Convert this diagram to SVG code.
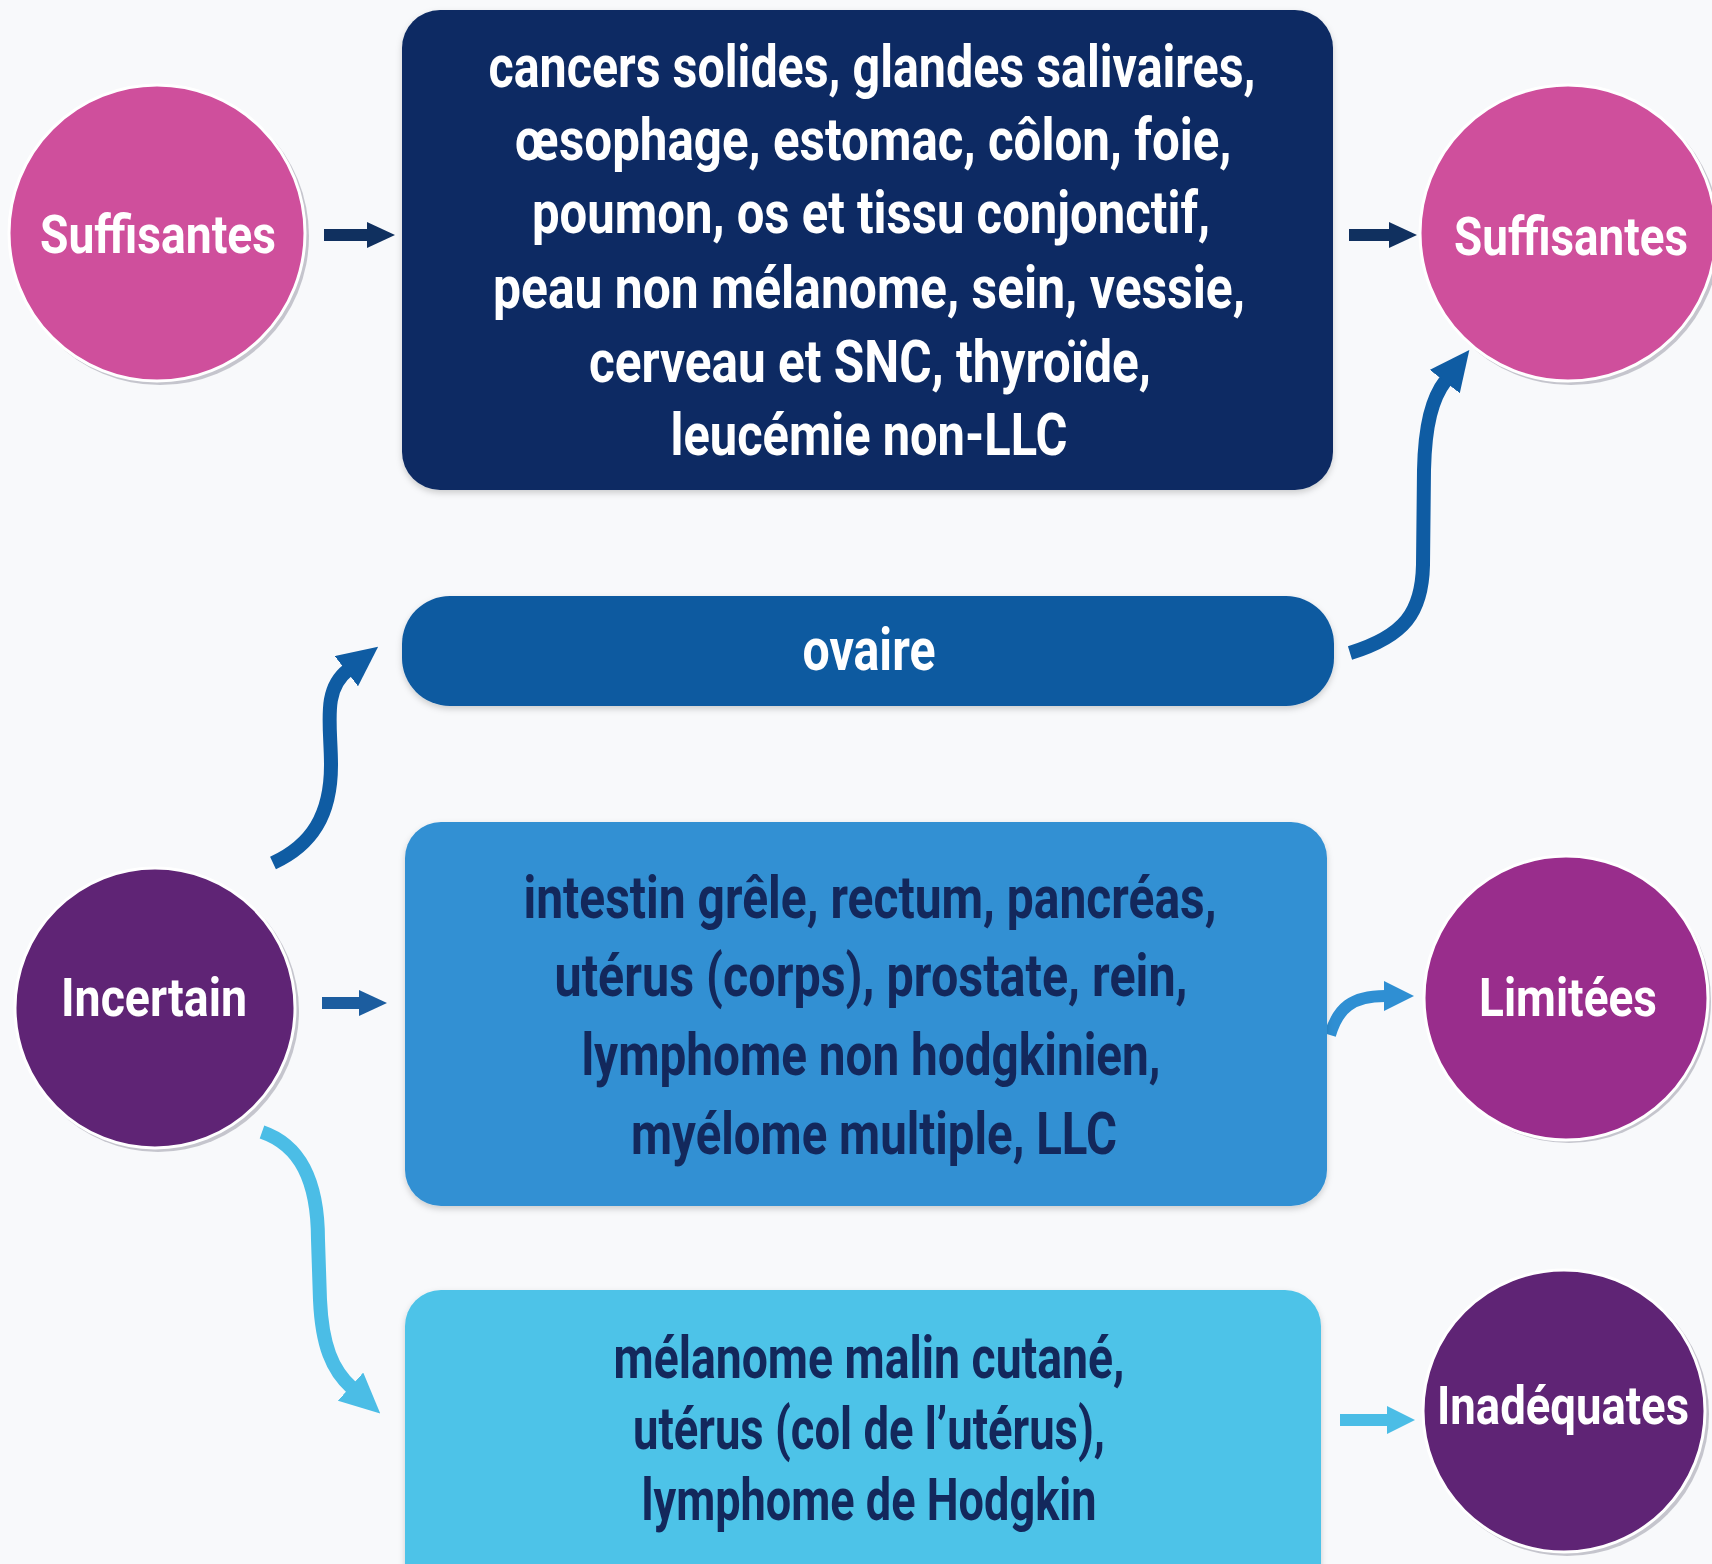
<svg xmlns="http://www.w3.org/2000/svg" width="1712" height="1564" viewBox="0 0 1712 1564">
<style>
.t{font-family:"Liberation Sans Narrow","Roboto","Liberation Sans",sans-serif;font-weight:700;text-anchor:middle}
.w{fill:#ffffff}
.d{fill:#13285c}
.box{font-size:60px}
.cl{font-size:54px}
.ring{stroke:#ffffff;stroke-width:3}
.sh{fill:#9a9aa8;opacity:0.55}
.c{fill:none;stroke-linecap:butt}
</style>
<defs>
<marker id="hNavy" markerUnits="userSpaceOnUse" viewBox="0 0 28 26" refX="1" refY="13" markerWidth="28" markerHeight="26" orient="auto"><path d="M0,0 L28,13 L0,26 Z" fill="#10305f"/></marker>
<marker id="hMid" markerUnits="userSpaceOnUse" viewBox="0 0 28 26" refX="1" refY="13" markerWidth="28" markerHeight="26" orient="auto"><path d="M0,0 L28,13 L0,26 Z" fill="#1c5d9f"/></marker>
<marker id="hLight" markerUnits="userSpaceOnUse" viewBox="0 0 30 30" refX="1" refY="15" markerWidth="30" markerHeight="30" orient="auto"><path d="M0,0 L30,15 L0,30 Z" fill="#2f8fd3"/></marker>
<marker id="hCyanS" markerUnits="userSpaceOnUse" viewBox="0 0 28 28" refX="1" refY="14" markerWidth="28" markerHeight="28" orient="auto"><path d="M0,0 L28,14 L0,28 Z" fill="#4bbde6"/></marker>
<marker id="hBlueL" markerUnits="userSpaceOnUse" viewBox="0 0 40 38" refX="2" refY="19" markerWidth="40" markerHeight="38" orient="auto"><path d="M0,0 L40,19 L0,38 Z" fill="#0f5ca3"/></marker>
<marker id="hCyanL" markerUnits="userSpaceOnUse" viewBox="0 0 40 38" refX="2" refY="19" markerWidth="40" markerHeight="38" orient="auto"><path d="M0,0 L40,19 L0,38 Z" fill="#4bbde6"/></marker>
<filter id="bs" x="-5%" y="-5%" width="110%" height="115%"><feDropShadow dx="0" dy="3" stdDeviation="3" flood-color="#000000" flood-opacity="0.18"/></filter>
</defs>
<rect x="0" y="0" width="1712" height="1564" fill="#f8f9fb"/>

<g id="connectors">
<path class="c" d="M324,235 L368,235" stroke="#10305f" stroke-width="12" marker-end="url(#hNavy)"/>
<path class="c" d="M1349,235 L1390,235" stroke="#10305f" stroke-width="12" marker-end="url(#hNavy)"/>
<path class="c" d="M1350,653 C1405,636 1422,612 1423,565 L1424,470 C1425,425 1432,398 1446,380" stroke="#0f5ca3" stroke-width="14" marker-end="url(#hBlueL)"/>
<path class="c" d="M273,863 C312,845 331,815 331,765 C331,725 322,690 348,670" stroke="#0f5ca3" stroke-width="14" marker-end="url(#hBlueL)"/>
<path class="c" d="M322,1003 L360,1003" stroke="#1c5d9f" stroke-width="12" marker-end="url(#hMid)"/>
<path class="c" d="M1330,1035 C1338,1008 1352,996 1385,996" stroke="#2f8fd3" stroke-width="12" marker-end="url(#hLight)"/>
<path class="c" d="M262,1132 C300,1145 318,1180 318,1240 L320,1300 C322,1345 332,1370 352,1388" stroke="#4bbde6" stroke-width="14" marker-end="url(#hCyanL)"/>
<path class="c" d="M1340,1420 L1388,1420" stroke="#4bbde6" stroke-width="12" marker-end="url(#hCyanS)"/>
</g>

<g id="n-suff-left">
<circle class="sh" cx="160" cy="236" r="149"/>
<circle class="ring" cx="157" cy="233" r="148" fill="#cf4f9c"/>
<text class="t w cl" x="158" y="253" textLength="236" lengthAdjust="spacingAndGlyphs">Suffisantes</text>
</g>

<g id="n-top">
<rect x="402" y="10" width="931" height="480" rx="38" fill="#0d2c63" filter="url(#bs)"/>
<text class="t w box" x="872" y="87" textLength="767" lengthAdjust="spacingAndGlyphs">cancers solides, glandes salivaires,</text>
<text class="t w box" x="873" y="160" textLength="717" lengthAdjust="spacingAndGlyphs">œsophage, estomac, côlon, foie,</text>
<text class="t w box" x="871" y="233" textLength="678" lengthAdjust="spacingAndGlyphs">poumon, os et tissu conjonctif,</text>
<text class="t w box" x="869" y="308" textLength="752" lengthAdjust="spacingAndGlyphs">peau non mélanome, sein, vessie,</text>
<text class="t w box" x="870" y="382" textLength="562" lengthAdjust="spacingAndGlyphs">cerveau et SNC, thyroïde,</text>
<text class="t w box" x="869" y="455" textLength="397" lengthAdjust="spacingAndGlyphs">leucémie non-LLC</text>
</g>

<g id="n-suff-right">
<circle class="sh" cx="1571" cy="236" r="149"/>
<circle class="ring" cx="1568" cy="233" r="148" fill="#cf4f9c"/>
<text class="t w" style="font-size:46px" transform="translate(1571,255) scale(1,1.17)" x="0" y="0" textLength="234" lengthAdjust="spacingAndGlyphs">Suffisantes</text>
</g>

<g id="n-ovaire">
<rect x="402" y="596" width="932" height="110" rx="48" fill="#0e5aa0" filter="url(#bs)"/>
<text class="t w box" x="869" y="670" textLength="133" lengthAdjust="spacingAndGlyphs">ovaire</text>
</g>

<g id="n-incertain">
<circle class="sh" cx="158" cy="1011" r="141"/>
<circle class="ring" cx="155" cy="1008" r="140" fill="#5f2475"/>
<text class="t w cl" x="154" y="1016" textLength="186" lengthAdjust="spacingAndGlyphs">Incertain</text>
</g>

<g id="n-middle">
<rect x="405" y="822" width="922" height="384" rx="36" fill="#3390d3" filter="url(#bs)"/>
<text class="t d box" x="870" y="918" textLength="693" lengthAdjust="spacingAndGlyphs">intestin grêle, rectum, pancréas,</text>
<text class="t d box" x="871" y="996" textLength="633" lengthAdjust="spacingAndGlyphs">utérus (corps), prostate, rein,</text>
<text class="t d box" x="871" y="1075" textLength="579" lengthAdjust="spacingAndGlyphs">lymphome non hodgkinien,</text>
<text class="t d box" x="874" y="1154" textLength="486" lengthAdjust="spacingAndGlyphs">myélome multiple, LLC</text>
</g>

<g id="n-limitees">
<circle class="sh" cx="1569" cy="1001" r="142"/>
<circle class="ring" cx="1566" cy="998" r="142" fill="#992d8c"/>
<text class="t w cl" x="1568" y="1016" textLength="178" lengthAdjust="spacingAndGlyphs">Limitées</text>
</g>

<g id="n-bottom">
<rect x="405" y="1290" width="916" height="320" rx="36" fill="#4ec3e8" filter="url(#bs)"/>
<text class="t d box" x="869" y="1378" textLength="511" lengthAdjust="spacingAndGlyphs">mélanome malin cutané,</text>
<text class="t d box" x="869" y="1449" textLength="472" lengthAdjust="spacingAndGlyphs">utérus (col de l’utérus),</text>
<text class="t d box" x="869" y="1520" textLength="455" lengthAdjust="spacingAndGlyphs">lymphome de Hodgkin</text>
</g>

<g id="n-inadequates">
<circle class="sh" cx="1567" cy="1414" r="142"/>
<circle class="ring" cx="1564" cy="1411" r="141" fill="#5f2475"/>
<text class="t w" style="font-size:45px" transform="translate(1563,1424) scale(1,1.2)" x="0" y="0" textLength="252" lengthAdjust="spacingAndGlyphs">Inadéquates</text>
</g>
</svg>
